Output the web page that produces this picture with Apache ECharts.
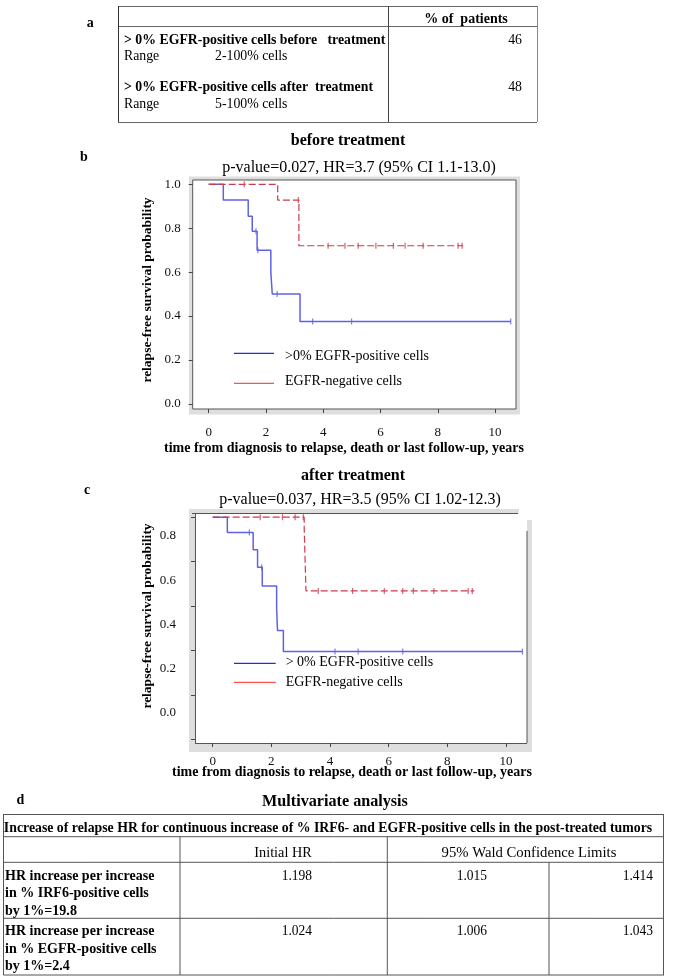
<!DOCTYPE html>
<html><head><meta charset="utf-8">
<script src="https://cdn.jsdelivr.net/npm/echarts@6/dist/echarts.min.js"></script>
<style>html,body{margin:0;padding:0;background:#fff}#c{width:685px;height:978px}</style>
</head><body><div id="c"></div>
<script>
// ---------- data ----------
const seriesNames = ['>0% EGFR-positive cells', 'EGFR-negative cells'];
const seriesNamesAfter = ['> 0% EGFR-positive cells', 'EGFR-negative cells'];
// before treatment (Kaplan-Meier step points: [time, survival])
const beforePosSteps = [[0,1],[0.51,0.928],[1.38,0.855],[1.52,0.786],[1.69,0.70],[2.17,0.60],[2.22,0.50],[3.19,0.375],[10.55,0.375]];
const beforePosCensor = [[1.65,0.786],[1.72,0.70],[2.39,0.50],[3.63,0.375],[4.99,0.375],[10.55,0.375]];
const beforeNegSteps = [[0,1],[2.41,0.928],[3.15,0.72],[8.89,0.72]];
const beforeNegCensor = [[1.24,1],[3.13,0.928],[4.17,0.72],[4.76,0.72],[5.22,0.72],[5.84,0.72],[6.45,0.72],[6.86,0.72],[7.49,0.72],[8.71,0.72],[8.85,0.72]];
// after treatment
const afterPosSteps = [[0,1],[0.50,0.931],[1.38,0.853],[1.53,0.775],[1.69,0.69],[2.18,0.59],[2.21,0.49],[2.41,0.395],[10.56,0.395]];
const afterPosCensor = [[1.25,0.931],[1.67,0.775],[4.17,0.395],[4.96,0.395],[6.48,0.395],[10.56,0.395]];
const afterNegSteps = [[0,1],[3.12,0.95],[3.18,0.668],[8.92,0.668]];
const afterNegCensor = [[1.62,1],[2.38,1],[2.81,1],[3.09,1],[3.60,0.668],[4.77,0.668],[5.85,0.668],[6.48,0.668],[6.84,0.668],[7.54,0.668],[8.71,0.668],[8.85,0.668]];
const xTickValues = [0,2,4,6,8,10];
const yTickValues = [0,0.2,0.4,0.6,0.8,1.0];
// tables
const tableAHeader = '% of  patients';
const tableARows = [
  ['> 0% EGFR-positive cells before   treatment', '46', 'Range', '2-100% cells'],
  ['> 0% EGFR-positive cells after  treatment', '48', 'Range', '5-100% cells']
];
const tableDTitle = 'Multivariate analysis';
const tableDHeader = 'Increase of relapse HR for continuous increase of % IRF6- and EGFR-positive cells in the post-treated tumors';
const tableDCols = ['Initial HR', '95% Wald Confidence Limits'];
const tableDRows = [
  [['HR increase per increase','in % IRF6-positive cells','by 1%=19.8'], '1.198', '1.015', '1.414'],
  [['HR increase per increase','in % EGFR-positive cells','by 1%=2.4'], '1.024', '1.006', '1.043']
];
const titleB = 'before treatment', pB = 'p-value=0.027, HR=3.7 (95% CI 1.1-13.0)';
const titleC = 'after treatment', pC = 'p-value=0.037, HR=3.5 (95% CI 1.02-12.3)';
const xName = 'time from diagnosis to relapse, death or last follow-up, years';
const yName = 'relapse-free survival probability';

// ---------- style ----------
const SERIF = '"Liberation Serif","Times New Roman",serif';
const BLUE = '#6060e8', RED = '#cf3a4c', BLUE_LEG = '#2a2ae0', RED_LEG = '#ff5050';
const G = [];
function T(x, y, text, o) {
  o = o || {};
  G.push({type:'text', x:x, y:y, rotation:o.rot||0, scaleX:o.sx||1, silent:true,
    style:{text:text, x:0, y:0, fill:o.fill||'#000',
      font:(o.bold?'bold ':'')+(o.size||14)+'px '+SERIF,
      textAlign:o.align||'left', textVerticalAlign:'middle'}});
}
function L(x1,y1,x2,y2,c,w){G.push({type:'line',silent:true,shape:{x1:x1,y1:y1,x2:x2,y2:y2},style:{stroke:c||'#555',lineWidth:w||1}});}
function R(x,y,w,h,fill,stroke){G.push({type:'rect',silent:true,z:-10,shape:{x:x,y:y,width:w,height:h},style:{fill:fill,stroke:stroke||null,lineWidth:1}});}

// ---------- panel a ----------
T(86.7, 23, 'a', {bold:true, size:14});
L(118,6.5,537,6.5,'#666'); L(118,26.5,538,26.5,'#666'); L(118.5,6,118.5,122,'#333');
L(388.5,6,388.5,122,'#444'); L(537.5,6,537.5,122,'#888'); L(118,122.5,537,122.5,'#666');
T(466, 19, tableAHeader, {bold:true, align:'center'});
const aRowY = [[40,56],[87,104]];
tableARows.forEach((r,i)=>{
  T(124, aRowY[i][0], r[0], {bold:true, size:13.8});
  T(522, aRowY[i][0], r[1], {size:13.8, align:'right'});
  T(124, aRowY[i][1], r[2], {size:13.8});
  T(215, aRowY[i][1], r[3], {size:13.8});
});

// ---------- panel b frame ----------
T(80, 157, 'b', {bold:true, size:14});
T(348, 141, titleB, {bold:true, size:16, align:'center'});
T(359, 168, pB, {size:16, align:'center'});
R(189, 176.5, 331, 238, '#dedede');
R(192.7, 180, 323.3, 229, '#fff', '#555');
T(148, 290, yName, {bold:true, size:13.5, align:'center', rot:Math.PI/2});
T(344, 448, xName, {bold:true, size:14, align:'center'});
// legend b
L(234,353.3,274,353.3,BLUE_LEG,1.3); T(285,356.5,seriesNames[0]);
L(234,383.3,274,383.3,RED_LEG,1.3); T(285,381.7,seriesNames[1]);

// ---------- panel c frame ----------
T(84, 490, 'c', {bold:true, size:14});
T(353, 476, titleC, {bold:true, size:16, align:'center'});
T(360, 500, pC, {size:16, align:'center'});
R(189, 509, 330, 5, '#dedede');
R(189, 509, 6, 243, '#dedede');
R(189, 743, 343, 9, '#dedede');
R(527, 520, 5, 232, '#dedede');
R(195, 513, 332, 230, '#fff');
L(192,513.5,518,513.5,'#555'); L(195.5,513,195.5,743,'#555');
L(195,743.5,527,743.5,'#555'); L(527,531,527,743,'#555');
T(148, 616, yName, {bold:true, size:13.5, align:'center', rot:Math.PI/2});
T(352, 772, xName, {bold:true, size:14, align:'center'});
L(234,663.3,275.7,663.3,BLUE_LEG,1.3); T(285.7,662.7,seriesNamesAfter[0]);
L(234,682.3,275.7,682.3,RED_LEG,1.3); T(285.7,682,seriesNamesAfter[1]);

// ---------- panel d ----------
T(16.5, 800, 'd', {bold:true, size:14});
T(335, 802, tableDTitle, {bold:true, size:17, align:'center', sx:0.95});
L(3.3,814.5,664,814.5,'#555'); L(3.5,814,3.5,975,'#555'); L(663.5,814,663.5,975,'#555'); L(3.3,975,664,975,'#555');
L(3.3,836.7,664,836.7,'#555'); L(3.3,862.3,664,862.3,'#555'); L(3.3,918.3,664,918.3,'#555');
L(180,836.7,180,975,'#555'); L(387.3,836.7,387.3,975,'#555'); L(549,862.3,549,975,'#555');
T(328, 827.7, tableDHeader, {bold:true, size:15, align:'center', sx:0.92});
T(283, 853.5, tableDCols[0], {size:15, align:'center', sx:0.95});
T(529, 853.5, tableDCols[1], {size:15, align:'center', sx:0.98});
tableDRows.forEach((r,i)=>{
  const y0 = 876 + i*55.5;
  r[0].forEach((s,k)=>T(5, y0 + k*17.5, s, {bold:true, size:15, sx:0.935}));
  T(312, y0, r[1], {size:15, align:'right', sx:0.9});
  T(487, y0, r[2], {size:15, align:'right', sx:0.9});
  T(653, y0, r[3], {size:15, align:'right', sx:0.9});
});

// ---------- chart ----------
const axLabel = {fontFamily:SERIF, fontSize:13, color:'#111'};
function xAx(grid, min, max, margin){
  return {type:'value', gridIndex:grid, min:min, max:max,
    axisLine:{show:false, onZero:false}, splitLine:{show:false},
    axisTick:{show:true, length:4, customValues:xTickValues, lineStyle:{color:'#444'}},
    axisLabel:Object.assign({margin:margin, customValues:xTickValues}, axLabel)};
}
function yAx(grid, min, max, showLabel, margin){
  return {type:'value', gridIndex:grid, min:min, max:max,
    axisLine:{show:false, onZero:false}, splitLine:{show:false},
    axisTick:{show:true, length:4, customValues:yTickValues, lineStyle:{color:'#444'}},
    axisLabel:Object.assign({show:showLabel, margin:margin, customValues:yTickValues, formatter:v=>v.toFixed(1)}, axLabel)};
}
function km(name, steps, color, xi, dashed){
  return {name:name, type:'line', step:'end', symbol:'none', xAxisIndex:xi, yAxisIndex:xi, data:steps,
    lineStyle:{color:color, width:dashed?1.2:1.5, type:dashed?[7,3]:'solid'}, silent:true, z:3};
}
function cens(name, pts, color, xi){
  return {name:name, type:'scatter', symbol:'rect', symbolSize:[1.2,6], xAxisIndex:xi, yAxisIndex:xi, data:pts,
    itemStyle:{color:color}, silent:true, z:4};
}
const chart = echarts.init(document.getElementById('c'), null, {renderer:'canvas'});
chart.setOption({
  animation:false,
  backgroundColor:'#fff',
  grid:[
    {left:192.7, right:169, top:180, bottom:569},
    {left:195, right:158, top:513, bottom:235},
    {left:195, right:158, top:536, bottom:265.3}
  ],
  xAxis:[
    xAx(0, -0.559, 10.733, 17),
    xAx(1, -0.603, 10.716, 12),
    {type:'value', gridIndex:2, min:0, max:10, show:false}
  ],
  yAxis:[
    yAx(0, -0.0237, 1.0196, true, 12),
    yAx(1, -0.0167, 1.019, false, 12),
    {type:'value', gridIndex:2, min:0, max:0.8, interval:0.2,
      axisLine:{show:false, onZero:false}, splitLine:{show:false}, axisTick:{show:false},
      axisLabel:Object.assign({margin:19, formatter:v=>v.toFixed(1)}, axLabel)}
  ],
  series:[
    km(seriesNames[0], beforePosSteps, BLUE, 0, false),
    cens(seriesNames[0], beforePosCensor, BLUE, 0),
    km(seriesNames[1], beforeNegSteps, RED, 0, true),
    cens(seriesNames[1], beforeNegCensor, RED, 0),
    km(seriesNamesAfter[0], afterPosSteps, BLUE, 1, false),
    cens(seriesNamesAfter[0], afterPosCensor, BLUE, 1),
    km(seriesNamesAfter[1], afterNegSteps, RED, 1, true),
    cens(seriesNamesAfter[1], afterNegCensor, RED, 1)
  ],
  graphic:{elements:G}
});
</script></body></html>
